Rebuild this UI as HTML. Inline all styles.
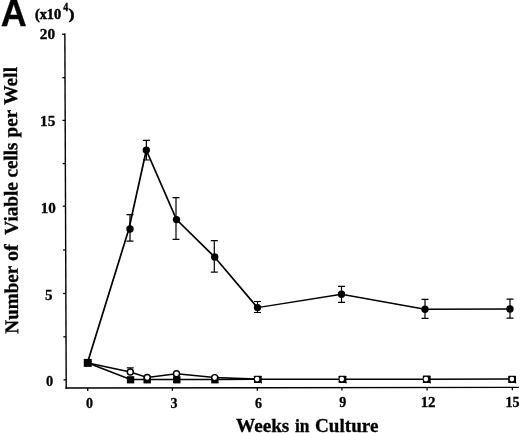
<!DOCTYPE html>
<html>
<head>
<meta charset="utf-8">
<title>Figure A</title>
<style>
html,body{margin:0;padding:0;background:#fff;}
body{width:520px;height:433px;overflow:hidden;position:relative;font-family:"Liberation Serif",serif;}
svg{position:absolute;left:0;top:0;display:block;will-change:transform;}
text{font-family:"Liberation Serif",serif;font-weight:bold;fill:#000;stroke:#000;stroke-width:0.3px;}
.sans{font-family:"Liberation Sans",sans-serif;font-weight:bold;}
</style>
</head>
<body>
<svg width="520" height="433" viewBox="0 0 520 433">
<rect x="0" y="0" width="520" height="433" fill="#ffffff"/>

<!-- axes -->
<g stroke="#000" stroke-width="1.4" fill="none">
  <line x1="64.85" y1="33.6" x2="66.23" y2="388.7"/>
  <line x1="65.5" y1="388.04" x2="518.85" y2="387.40"/>
</g>
<g stroke="#000" stroke-width="1.3" fill="none">
  <line x1="62.15" y1="34.25" x2="64.85" y2="34.25"/>
  <line x1="62.32" y1="77.7" x2="65.02" y2="77.7"/>
  <line x1="62.49" y1="120.4" x2="65.19" y2="120.4"/>
  <line x1="62.66" y1="163.6" x2="65.36" y2="163.6"/>
  <line x1="62.82" y1="206.2" x2="65.52" y2="206.2"/>
  <line x1="62.99" y1="250.0" x2="65.69" y2="250.0"/>
  <line x1="63.16" y1="293.5" x2="65.86" y2="293.5"/>
  <line x1="63.33" y1="336.8" x2="66.03" y2="336.8"/>
  <line x1="63.50" y1="379.85" x2="66.20" y2="379.85"/>
  <line x1="87.75" y1="388.01" x2="87.75" y2="390.91"/>
  <line x1="172.4" y1="387.89" x2="172.4" y2="390.79"/>
  <line x1="257.3" y1="387.77" x2="257.3" y2="390.67"/>
  <line x1="341.9" y1="387.65" x2="341.9" y2="390.55"/>
  <line x1="427.1" y1="387.53" x2="427.1" y2="390.43"/>
  <line x1="512.3" y1="387.41" x2="512.3" y2="390.31"/>
</g>
<!-- error bars -->
<g stroke="#000" stroke-width="1.2" fill="none">
  <path d="M130 214.6V241.1M126.5 214.6H133.5M126.5 241.1H133.5"/>
  <path d="M146.4 140.4V160.0M142.9 140.4H149.9M142.9 160.0H149.9"/>
  <path d="M176.0 197.7V239.3M172.5 197.7H179.5M172.5 239.3H179.5"/>
  <path d="M214.3 240.7V272.1M210.8 240.7H217.8M210.8 272.1H217.8"/>
  <path d="M257.5 301.5V312.5M254.0 301.5H261.0M254.0 312.5H261.0"/>
  <path d="M341.5 286.4V302.3M338.0 286.4H345.0M338.0 302.3H345.0"/>
  <path d="M425 299.3V318.4M421.5 299.3H428.5M421.5 318.4H428.5"/>
  <path d="M510 299.2V318.1M506.5 299.2H513.5M506.5 318.1H513.5"/>
  <path d="M130.3 367.9V372M126.8 367.9H133.8"/>
</g>
<!-- series lines -->
<g stroke="#000" fill="none" stroke-linejoin="miter">
  <polyline stroke-width="1.7" points="87.4,363 128.9,229 146.3,150.2 176.5,219.6 214.6,257 257.5,307.6"/>
  <polyline stroke-width="1.4" points="257.5,307.6 341.5,294.3 425,309.3 510,309"/>
  <polyline stroke-width="1.5" points="88,363 130.5,379.5 147,379.5 176.8,379.45 215,379.6 257.5,379.3 342,379.2 426.6,379.15 511.6,379.1"/>
  <polyline stroke-width="1.55" points="88,363 130.3,372 147.2,377.5 176.5,373.8 214.7,377.6 257.5,379.2"/>
</g>
<!-- filled squares -->
<g fill="#000" stroke="none">
  <rect x="83.75" y="358.9" width="8" height="8"/>
  <rect x="126.85" y="376.2" width="7.4" height="7.2"/>
  <rect x="143.50" y="376.2" width="7.4" height="7.2"/>
  <rect x="173.10" y="376.2" width="7.4" height="7.2"/>
  <rect x="211.20" y="376.2" width="7.4" height="7.2"/>
</g>
<!-- open squares (black square, white round interior) -->
<g fill="#000" stroke="none">
  <rect x="253.95" y="375.70" width="7.8" height="7.4" rx="0.6"/>
  <circle cx="261.35" cy="382.80" r="0.75"/>
  <rect x="338.60" y="375.70" width="7.8" height="7.4" rx="0.6"/>
  <circle cx="346.00" cy="382.80" r="0.75"/>
  <rect x="422.85" y="375.60" width="7.8" height="7.4" rx="0.6"/>
  <circle cx="430.25" cy="382.70" r="0.75"/>
  <rect x="508.20" y="375.70" width="7.8" height="7.4" rx="0.6"/>
  <circle cx="515.60" cy="382.80" r="0.75"/>
</g>
<g fill="#fff" stroke="none">
  <circle cx="257.10" cy="379.10" r="2.3"/>
  <circle cx="341.80" cy="379.10" r="2.3"/>
  <circle cx="425.90" cy="379.10" r="2.3"/>
  <circle cx="511.90" cy="379.10" r="2.3"/>
</g>
<!-- open circles -->
<g fill="#fff" stroke="#000" stroke-width="1.45">
  <circle cx="130.3" cy="372" r="3.0"/>
  <circle cx="147.2" cy="377.5" r="3.0"/>
  <circle cx="176.5" cy="373.8" r="3.0"/>
  <circle cx="214.7" cy="377.6" r="3.0"/>
</g>
<!-- filled circles -->
<g fill="#000" stroke="none">
  <circle cx="130" cy="229" r="3.7"/>
  <circle cx="146.3" cy="150.1" r="3.7"/>
  <circle cx="176.5" cy="219.6" r="3.7"/>
  <circle cx="214.7" cy="257" r="3.7"/>
  <circle cx="257.5" cy="307.6" r="3.7"/>
  <circle cx="341.5" cy="294.3" r="3.7"/>
  <circle cx="425" cy="309.3" r="3.7"/>
  <circle cx="510" cy="309" r="3.7"/>
</g>
<!-- panel letter -->
<text class="sans" transform="translate(0.75,26.4) scale(1,1.04)" font-size="36">A</text>
<!-- scale factor -->
<text x="34.9" y="18.7" font-size="15" textLength="26.3" lengthAdjust="spacingAndGlyphs" style="stroke-width:0.5px">(x10</text>
<text x="63.2" y="11.2" font-size="12.2" textLength="5" lengthAdjust="spacingAndGlyphs" style="stroke-width:0.45px">4</text>
<text transform="translate(68.6,18.7) scale(1.2,1)" font-size="15" style="stroke-width:0.45px">)</text>
<!-- y tick labels -->
<g font-size="14.3" text-anchor="end" style="stroke-width:0.45px">
  <text transform="translate(55.1,38.6) scale(1.07,0.95)">20</text>
  <text transform="translate(55.3,125.5) scale(1.07,1)">15</text>
  <text transform="translate(55.8,212.6) scale(1.06,1)">10</text>
  <text transform="translate(52.6,299.7) scale(0.98,1)" font-size="15.4">5</text>
  <text x="53.2" y="386.2">0</text>
</g>
<!-- x tick labels -->
<g font-size="14" text-anchor="middle" style="stroke-width:0.45px">
  <text x="89.4" y="407.7">0</text>
  <text x="174" y="407.7">3</text>
  <text x="258.4" y="407.5">6</text>
  <text x="342.85" y="407.3">9</text>
  <text transform="translate(428.1,407.3) scale(1.07,1)">12</text>
  <text x="512.6" y="407.1">15</text>
</g>
<!-- axis titles -->
<g font-size="18.6" style="stroke-width:0.2px">
  <text x="236.00" y="431.5" textLength="53.35" lengthAdjust="spacingAndGlyphs">Weeks</text>
  <text x="294.90" y="431.5" textLength="14.55" lengthAdjust="spacingAndGlyphs">in</text>
  <text x="315.00" y="431.5" textLength="63.45" lengthAdjust="spacingAndGlyphs">Culture</text>
</g>
<g font-size="19.5" style="stroke-width:0.2px">
  <text transform="translate(18.16,333.65) rotate(-90.28)" textLength="67.85" lengthAdjust="spacingAndGlyphs">Number</text>
  <text transform="translate(17.80,261.05) rotate(-90.28)" textLength="16.95" lengthAdjust="spacingAndGlyphs">of</text>
  <text transform="translate(17.67,234.75) rotate(-90.28)" textLength="52.65" lengthAdjust="spacingAndGlyphs">Viable</text>
  <text transform="translate(17.39,177.45) rotate(-90.28)" textLength="34.95" lengthAdjust="spacingAndGlyphs">cells</text>
  <text transform="translate(17.19,137.40) rotate(-90.28)" textLength="27.50" lengthAdjust="spacingAndGlyphs">per</text>
  <text transform="translate(17.04,104.80) rotate(-90.28)" textLength="37.85" lengthAdjust="spacingAndGlyphs">Well</text>
</g>
</svg>
</body>
</html>
